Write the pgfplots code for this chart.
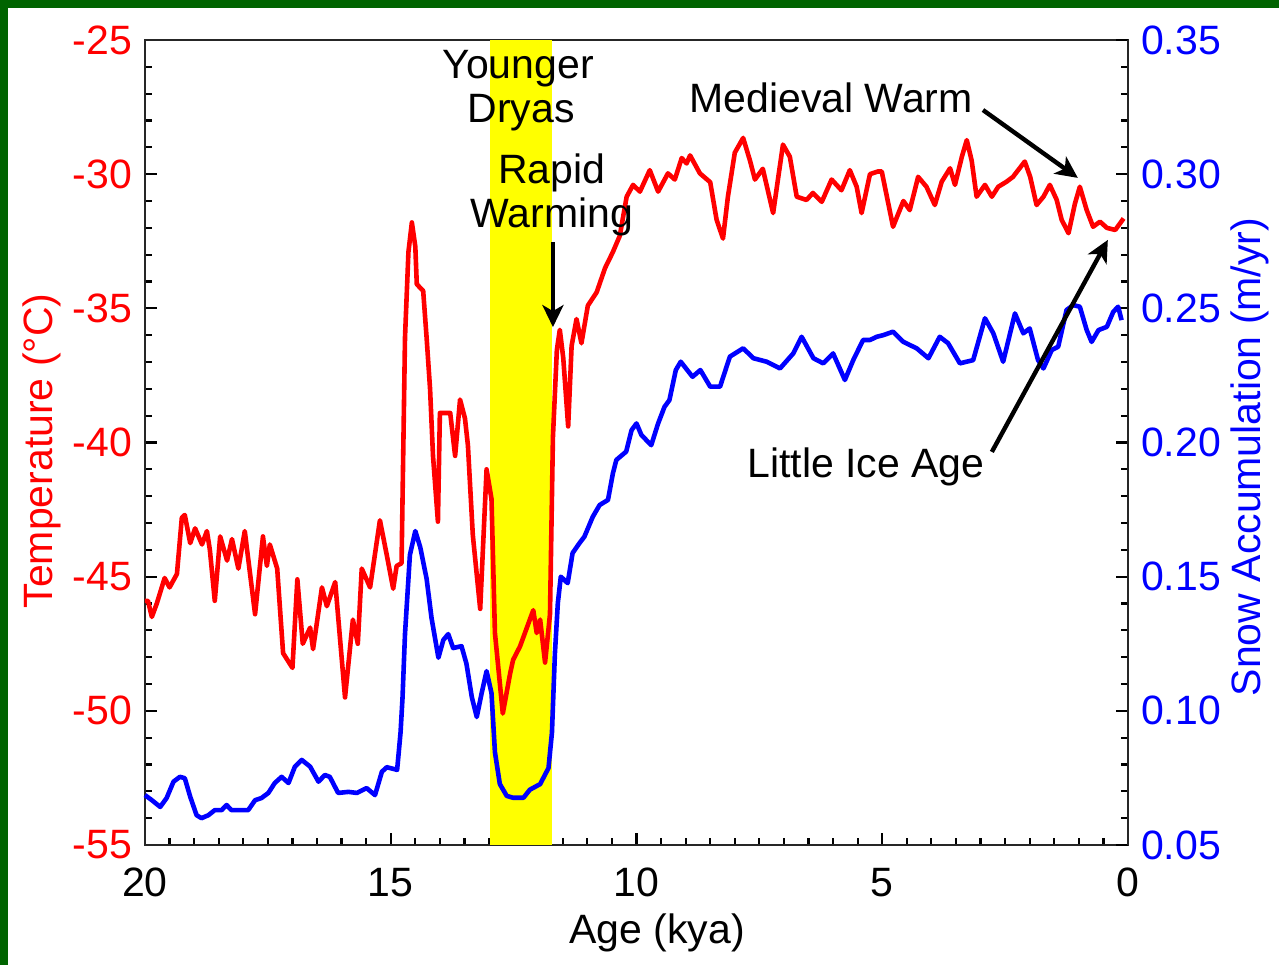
\documentclass[border=0pt]{standalone}
\usepackage{fontspec}
\setmainfont{Liberation Sans}
\usepackage{pgfplots}
\pgfplotsset{compat=1.18}
\usetikzlibrary{arrows.meta}
\definecolor{bordergreen}{RGB}{0,100,0}
\definecolor{tred}{RGB}{255,0,0}
\definecolor{sblue}{RGB}{0,0,255}
\definecolor{yband}{RGB}{255,255,0}
\newcommand{\fs}{\fontsize{20.5}{24}\selectfont}
\begin{document}
\begin{tikzpicture}
\useasboundingbox (0,0) rectangle (639.5pt,482.5pt);
\fill[white] (0,0) rectangle (639.5pt,482.5pt);
\fill[bordergreen] (0,478.5pt) rectangle (639.5pt,482.5pt);
\fill[bordergreen] (0,0) rectangle (3.75pt,482.5pt);
\pgfplotsset{
  base/.style={
    at={(72.5pt,60pt)}, anchor=south west,
    scale only axis, width=491.5pt, height=402.5pt,
    x dir=reverse, xmin=0, xmax=20,
    every tick label/.append style={font=\fs},
    major tick length=6pt, minor tick length=3.5pt,
    every tick/.append style={line width=1.1pt, black},
    axis line style={line width=1.3pt, black!85},
    clip=false,
  }
}
\begin{axis}[base,
  ymin=-55, ymax=-25,
  xtick={0,5,10,15,20}, xticklabels={0,5,10,15,20},
  ytick={-55,-50,-45,-40,-35,-30,-25},
  yticklabels={-55,-50,-45,-40,-35,-30,-25},
  minor x tick num=9, minor y tick num=4,
  xtick pos=left, ytick pos=left,
  yticklabel style={text=tred, xshift=-3pt},
  xticklabel style={text=black, yshift=-8pt},
]
\addplot[fill=yband, draw=none] coordinates {(12.98,-55) (12.98,-25) (11.72,-25) (11.72,-55)} -- cycle;
\addplot[tred, line width=2.3pt, line join=round] coordinates {
(20.0,-45.9) (19.94,-45.9) (19.86,-46.5) (19.76,-46.0) (19.6,-45.05) (19.5,-45.4)
(19.35,-44.9) (19.25,-42.8) (19.19,-42.7) (19.08,-43.75) (18.98,-43.2) (18.84,-43.8)
(18.74,-43.3) (18.68,-44.0) (18.58,-45.9) (18.47,-43.5) (18.33,-44.4) (18.23,-43.6)
(18.1,-44.7) (17.97,-43.3) (17.76,-46.4) (17.6,-43.5) (17.52,-44.6) (17.46,-43.8)
(17.31,-44.7) (17.19,-47.85) (17.0,-48.4) (16.9,-45.1) (16.79,-47.5) (16.64,-46.9)
(16.58,-47.7) (16.4,-45.4) (16.3,-46.1) (16.13,-45.2) (15.93,-49.5) (15.77,-46.6)
(15.67,-47.5) (15.59,-44.7) (15.42,-45.4) (15.22,-42.9) (15.08,-44.2) (14.95,-45.45)
(14.88,-44.6) (14.78,-44.5) (14.71,-36.1) (14.64,-32.9) (14.57,-31.8) (14.5,-32.7)
(14.47,-34.1) (14.34,-34.35) (14.27,-36.1) (14.2,-38.0) (14.14,-40.5) (14.04,-42.95)
(14.0,-38.9) (13.9,-38.9) (13.79,-38.9) (13.69,-40.5) (13.59,-38.4) (13.49,-39.1)
(13.43,-40.1) (13.33,-43.45) (13.18,-46.2) (13.05,-41.0) (12.95,-42.1) (12.88,-47.1)
(12.72,-50.1) (12.57,-48.6) (12.51,-48.1) (12.37,-47.6) (12.27,-47.1) (12.1,-46.25)
(12.03,-47.1) (11.96,-46.6) (11.86,-48.2) (11.76,-46.4) (11.7,-39.8) (11.62,-36.55)
(11.56,-35.8) (11.49,-36.85) (11.39,-39.4) (11.32,-36.4) (11.22,-35.4) (11.12,-36.3)
(10.99,-34.9) (10.81,-34.4) (10.64,-33.5) (10.48,-32.9) (10.34,-32.3) (10.2,-30.84)
(10.07,-30.4) (9.93,-30.65) (9.73,-29.85) (9.56,-30.65) (9.36,-29.97) (9.22,-30.2)
(9.08,-29.4) (8.98,-29.6) (8.91,-29.3) (8.71,-29.97) (8.5,-30.3) (8.37,-31.7)
(8.24,-32.4) (8.14,-30.84) (8.0,-29.2) (7.83,-28.65) (7.69,-29.5) (7.59,-30.2)
(7.43,-29.8) (7.22,-31.45) (7.02,-28.9) (6.88,-29.35) (6.74,-30.84) (6.54,-30.96)
(6.41,-30.7) (6.23,-31.03) (6.03,-30.2) (5.83,-30.6) (5.66,-29.85) (5.52,-30.47)
(5.42,-31.45) (5.25,-30.0) (5.09,-29.9) (5.01,-29.9) (4.78,-31.96) (4.57,-31.0)
(4.44,-31.34) (4.27,-30.1) (4.1,-30.47) (3.93,-31.15) (3.79,-30.28) (3.62,-29.78)
(3.52,-30.4) (3.38,-29.35) (3.28,-28.73) (3.18,-29.5) (3.08,-30.84) (2.91,-30.4)
(2.77,-30.84) (2.64,-30.47) (2.47,-30.28) (2.34,-30.1) (2.1,-29.53) (1.99,-30.1)
(1.86,-31.15) (1.72,-30.84) (1.59,-30.4) (1.45,-30.96) (1.35,-31.7) (1.21,-32.2)
(1.08,-31.1) (0.98,-30.47) (0.84,-31.34) (0.71,-31.96) (0.57,-31.77) (0.43,-32.0)
(0.26,-32.08) (0.16,-31.83) (0.09,-31.65)
};
\end{axis}
\begin{axis}[base,
  ymin=0.05, ymax=0.35,
  axis y line*=right, axis x line=none,
  ytick={0.05,0.10,0.15,0.20,0.25,0.30,0.35},
  yticklabels={0.05,0.10,0.15,0.20,0.25,0.30,0.35},
  minor y tick num=4,
  yticklabel style={text=sblue, xshift=3pt},
]
\addplot[sblue, line width=2.3pt, line join=round] coordinates {
(20.0,0.0686) (19.86,0.0667) (19.69,0.0642) (19.56,0.0675) (19.42,0.0736) (19.29,0.0754)
(19.19,0.0749) (19.08,0.0680) (18.95,0.0611) (18.85,0.0600) (18.71,0.0611) (18.58,0.0630)
(18.44,0.0630) (18.34,0.0649) (18.24,0.0630) (18.07,0.0630) (17.9,0.0630) (17.76,0.0667)
(17.63,0.0675) (17.49,0.0694) (17.36,0.0731) (17.22,0.0754) (17.08,0.0731) (16.95,0.0792)
(16.81,0.0817) (16.64,0.0792) (16.47,0.0736) (16.34,0.0761) (16.24,0.0754) (16.07,0.0694)
(15.86,0.0698) (15.69,0.0694) (15.49,0.0712) (15.32,0.0686) (15.18,0.0773) (15.08,0.0790)
(14.87,0.0780) (14.8,0.0920) (14.76,0.1050) (14.71,0.1286) (14.61,0.1581) (14.5,0.1670)
(14.4,0.1610) (14.27,0.1492) (14.17,0.1346) (14.03,0.1198) (13.93,0.1264) (13.83,0.1286)
(13.73,0.1234) (13.56,0.1241) (13.46,0.1176) (13.35,0.1051) (13.25,0.0977) (13.15,0.1066)
(13.05,0.1148) (12.95,0.1066) (12.88,0.0846) (12.78,0.0727) (12.64,0.0683) (12.51,0.0676)
(12.3,0.0676) (12.17,0.0706) (11.96,0.0727) (11.79,0.0787) (11.72,0.0919) (11.66,0.1213)
(11.6,0.1402) (11.54,0.1500) (11.4,0.1476) (11.3,0.1588) (11.16,0.1625) (11.06,0.1649)
(10.89,0.1723) (10.75,0.1767) (10.58,0.1786) (10.48,0.1885) (10.41,0.1935) (10.21,0.1966)
(10.1,0.2046) (10.0,0.2071) (9.9,0.2028) (9.7,0.1990) (9.56,0.2071) (9.43,0.2133)
(9.33,0.2158) (9.2,0.2270) (9.1,0.2301) (8.86,0.2245) (8.7,0.2270) (8.5,0.2208)
(8.3,0.2208) (8.1,0.2320) (7.83,0.2351) (7.62,0.2314) (7.35,0.2301) (7.08,0.2276)
(6.81,0.2332) (6.64,0.2394) (6.4,0.2314) (6.2,0.2295) (6.0,0.2332) (5.76,0.2233)
(5.59,0.2307) (5.39,0.2382) (5.25,0.2382) (5.11,0.2394) (4.98,0.2400) (4.78,0.2413)
(4.57,0.2375) (4.3,0.2351) (4.06,0.2314) (3.83,0.2394) (3.66,0.2370) (3.42,0.2295)
(3.15,0.2307) (2.91,0.2463) (2.74,0.2407) (2.54,0.2301) (2.3,0.2481) (2.13,0.2407)
(2.0,0.2425) (1.83,0.2307) (1.72,0.2276) (1.55,0.2345) (1.42,0.2357) (1.25,0.2494)
(1.11,0.2512) (0.98,0.2506) (0.84,0.2419) (0.74,0.2375) (0.6,0.2419) (0.43,0.2431)
(0.3,0.2487) (0.2,0.2506) (0.13,0.2456)
};
\end{axis}
\begin{axis}[base, ymin=-55, ymax=-25, hide axis]
\node[font=\fs, anchor=base] at (axis cs:12.41,-26.42) {Younger};
\node[font=\fs, anchor=base] at (axis cs:12.35,-28.09) {Dryas};
\node[font=\fs, anchor=base] at (axis cs:11.72,-30.33) {Rapid};
\node[font=\fs, anchor=base] at (axis cs:11.72,-31.97) {Warming};
\node[font=\fs, anchor=base] at (axis cs:6.04,-27.71) {Medieval Warm};
\node[font=\fs, anchor=base] at (axis cs:5.33,-41.32) {Little Ice Age};
\draw[line width=2.2pt, -{Stealth[length=11pt,width=10.5pt,inset=3pt]}] (axis cs:11.70,-32.53) -- (axis cs:11.70,-35.70);
\draw[line width=2.2pt, -{Stealth[length=11pt,width=10.5pt,inset=3pt]}] (axis cs:2.95,-27.61) -- (axis cs:1.02,-30.14);
\draw[line width=2.2pt, -{Stealth[length=11pt,width=10.5pt,inset=3pt]}] (axis cs:2.77,-40.35) -- (axis cs:0.41,-32.45);
\end{axis}
\node[font=\fs, text=black] at (328.5pt,16pt) {Age (kya)};
\node[font=\fs, text=tred, rotate=90] at (21pt,257pt) {Temperature (°C)};
\node[font=\fs, text=sblue, rotate=90] at (625pt,254pt) {Snow Accumulation (m/yr)};
\end{tikzpicture}
\end{document}
